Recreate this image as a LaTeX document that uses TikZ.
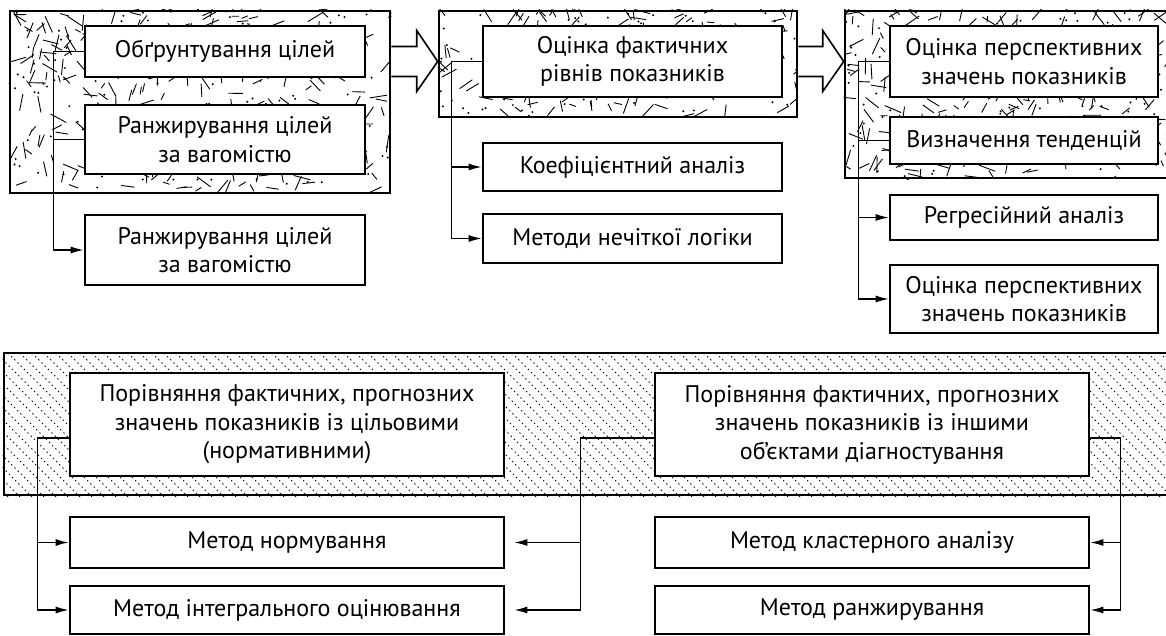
\documentclass[tikz,border=0pt]{standalone}
\usepackage{fontspec}
\setmainfont{PT Sans}
\usetikzlibrary{arrows.meta,calc}

\tikzset{
  box/.style={draw, line width=2.6pt, fill=white, align=center, inner sep=0pt,
    font=\fontsize{24}{28.5}\selectfont},
  stage/.style={draw, line width=2.6pt, inner sep=0pt},
  link/.style={line width=1.4pt},
  feed/.style={link, -{Latex[length=13pt,width=7pt]}},
  pass/.style={line width=1.6pt, fill=white, line join=miter},
  grain/.style={line width=0.9pt},
  hatch/.style={line width=1pt, dash pattern=on 1.3pt off 3.2pt},
}

% random strokes and dots inside a stage frame
\newcommand{\grainfill}[3]{%
  \begin{scope}
    \clip (#1.north west) rectangle (#1.south east);
    \path (#1.south west); \pgfgetlastxy{\gxa}{\gya}
    \path (#1.north east); \pgfgetlastxy{\gxb}{\gyb}
    \foreach \k in {1,...,#2}{
      \pgfmathsetmacro{\gx}{\gxa+rnd*(\gxb-\gxa)}
      \pgfmathsetmacro{\gy}{\gya+rnd*(\gyb-\gya)}
      \pgfmathsetmacro{\ga}{rnd*180}
      \pgfmathsetmacro{\gl}{6+rnd*12}
      \draw[grain] (\gx pt,\gy pt) -- ++(\ga:\gl pt);
    }
    \foreach \k in {1,...,#3}{
      \pgfmathsetmacro{\gx}{\gxa+rnd*(\gxb-\gxa)}
      \pgfmathsetmacro{\gy}{\gya+rnd*(\gyb-\gya)}
      \fill (\gx pt,\gy pt) circle (1.1pt);
    }
  \end{scope}}

% hollow arrow from a stage frame to the next one
\newcommand{\passarrow}[2]{%
  \draw[pass] ($(#1)+(0,-15)$) -- ($(#2)+(-21,-15)$) -- ($(#2)+(-21,-31)$)
    -- (#2) -- ($(#2)+(-21,30)$) -- ($(#2)+(-21,15)$) -- ($(#1)+(0,15)$);}

\begin{document}
\begin{tikzpicture}[x=1pt, y=-1pt]
\useasboundingbox (0,0) rectangle (1166,636);
\clip (0,0) rectangle (1166,636);
\pgfmathsetseed{7}

% stage frames
\node[stage, minimum width=380, minimum height=182] (stage1) at (200,102) {};
\node[stage, minimum width=358, minimum height=106] (stage2) at (618,64) {};
\node[stage, minimum width=335, minimum height=167] (stage3) at (1012.5,94.5) {};
\grainfill{stage1}{300}{140}
\grainfill{stage2}{170}{80}
\grainfill{stage3}{250}{120}

\node[stage, minimum width=1180, minimum height=142] (band) at (594,424) {};
\begin{scope}
  \clip (band.north west) rectangle (band.south east);
  \foreach \x in {-160,-148,...,1180}
    \draw[hatch] (\x,353) -- ++(150,150);
\end{scope}

% boxes
\node[box, minimum width=280, minimum height=51] (goal1) at (225,51.5) {Обґрунтування цілей};
\node[box, minimum width=280, minimum height=69] (goal2) at (225,139.5) {Ранжирування цілей\\за вагомістю};
\node[box, minimum width=280, minimum height=70] (goal3) at (225,250) {Ранжирування цілей\\за вагомістю};

\node[box, minimum width=299, minimum height=71] (fact) at (632.5,61.5) {Оцінка фактичних\\рівнів показників};
\node[box, minimum width=299, minimum height=48] (coef) at (632.5,167) {Коефіцієнтний аналіз};
\node[box, minimum width=299, minimum height=49] (fuzzy) at (632.5,238.5) {Методи нечіткої логіки};

\node[box, minimum width=268, minimum height=71] (persp) at (1024,61.5) {Оцінка перспективних\\значень показників};
\node[box, minimum width=268, minimum height=47] (trend) at (1024,140.5) {Визначення тенденцій};
\node[box, minimum width=268, minimum height=45] (regr) at (1024,217.5) {Регресійний аналіз};
\node[box, minimum width=268, minimum height=68] (persp2) at (1024,299) {Оцінка перспективних\\значень показників};

\node[box, minimum width=434, minimum height=103] (cmpA) at (287,424.5) {Порівняння фактичних, прогнозних\\значень показників із цільовими\\(нормативними)};
\node[box, minimum width=434, minimum height=103] (cmpB) at (872,424.5) {Порівняння фактичних, прогнозних\\значень показників із іншими\\об’єктами діагностування};
\node[box, minimum width=434, minimum height=51] (normM) at (287,542.5) {Метод нормування};
\node[box, minimum width=434, minimum height=48] (integM) at (287,610) {Метод інтегрального оцінювання};
\node[box, minimum width=434, minimum height=51] (clustM) at (872,542.5) {Метод кластерного аналізу};
\node[box, minimum width=434, minimum height=48] (rankM) at (872,610) {Метод ранжирування};

% hollow arrows between stages
\coordinate (p1) at (stage1.east |- fact.west);
\coordinate (q1) at (stage2.west |- fact.west);
\coordinate (p2) at (stage2.east |- persp.west);
\coordinate (q2) at (stage3.west |- persp.west);
\passarrow{p1}{q1}
\passarrow{p2}{q2}

% links
\draw[feed] (goal1.west) -- ++(-30,0) |- (goal3.west);
\draw[link] (goal2.west) -- ++(-30,0);

\draw[feed] (fact.west) -- ++(-30,0) |- (coef.west);
\draw[feed] (fact.west) -- ++(-30,0) |- (fuzzy.west);

\draw[feed] (persp.west) -- ++(-30,0) |- (regr.west);
\draw[feed] (persp.west) -- ++(-30,0) |- (persp2.west);
\draw[link] (trend.west) -- ++(-30,0);

\coordinate (aL) at ($(cmpA.west)+(0,13.5)$);
\coordinate (bL) at ($(cmpB.west)+(0,13.5)$);
\coordinate (bR) at ($(cmpB.east)+(0,13.5)$);
\draw[feed] (aL) -- ++(-31,0) |- (normM.west);
\draw[feed] (aL) -- ++(-31,0) |- (integM.west);
\draw[feed, shorten >=9pt] (bL) -- ++(-73,0) |- (normM.east);
\draw[feed, shorten >=9pt] (bL) -- ++(-73,0) |- (integM.east);
\draw[feed] (bR) -- ++(30,0) |- (clustM.east);
\draw[feed] (bR) -- ++(30,0) |- (rankM.east);
\end{tikzpicture}
\end{document}
